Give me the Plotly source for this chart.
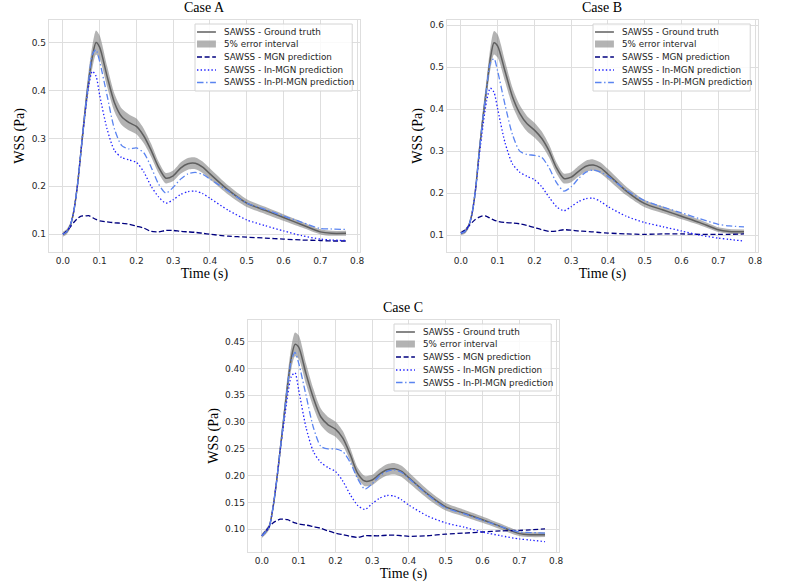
import plotly.graph_objects as go

W, H = 800, 585

t = [0, 0.01, 0.02, 0.03, 0.04, 0.05, 0.06, 0.07, 0.08, 0.09, 0.10, 0.12, 0.14, 0.16, 0.18,
     0.20, 0.22, 0.24, 0.26, 0.28, 0.30, 0.32, 0.34, 0.36, 0.38, 0.40, 0.45, 0.50, 0.55,
     0.60, 0.65, 0.70, 0.73, 0.77]

# Case A
gt_A = [0.100, 0.105, 0.118, 0.15, 0.205, 0.28, 0.355, 0.42, 0.47, 0.50, 0.49, 0.43, 0.375,
        0.345, 0.333, 0.325, 0.305, 0.275, 0.24, 0.217, 0.222, 0.238, 0.247, 0.248, 0.24,
        0.226, 0.192, 0.165, 0.15, 0.135, 0.12, 0.105, 0.102, 0.102]
pi_A = [0.100, 0.105, 0.118, 0.15, 0.205, 0.28, 0.355, 0.42, 0.475, 0.485, 0.46, 0.39, 0.32,
        0.285, 0.278, 0.28, 0.27, 0.24, 0.205, 0.186, 0.198, 0.215, 0.226, 0.229, 0.225,
        0.215, 0.19, 0.165, 0.152, 0.138, 0.125, 0.112, 0.111, 0.11]
in_A = [0.100, 0.105, 0.118, 0.15, 0.205, 0.28, 0.35, 0.41, 0.44, 0.43, 0.39, 0.32, 0.275,
        0.26, 0.255, 0.25, 0.23, 0.20, 0.178, 0.165, 0.172, 0.183, 0.189, 0.19, 0.185,
        0.175, 0.15, 0.13, 0.118, 0.107, 0.097, 0.09, 0.088, 0.087]
mgn_A = [0.100, 0.107, 0.115, 0.125, 0.133, 0.138, 0.138, 0.139, 0.135, 0.131, 0.128, 0.126,
         0.124, 0.123, 0.121, 0.117, 0.113, 0.106, 0.105, 0.108, 0.108, 0.106, 0.105, 0.104,
         0.102, 0.1, 0.096, 0.094, 0.092, 0.09, 0.088, 0.087, 0.086, 0.086]

# Case B
gt_B = [0.105, 0.108, 0.12, 0.15, 0.21, 0.30, 0.38, 0.45, 0.52, 0.558, 0.55, 0.49, 0.43, 0.39,
        0.365, 0.35, 0.33, 0.30, 0.26, 0.235, 0.238, 0.252, 0.264, 0.267, 0.26, 0.245, 0.205,
        0.175, 0.16, 0.145, 0.13, 0.113, 0.109, 0.108]
pi_B = [0.105, 0.108, 0.12, 0.15, 0.21, 0.30, 0.38, 0.45, 0.51, 0.52, 0.49, 0.41, 0.34, 0.30,
        0.292, 0.29, 0.285, 0.26, 0.225, 0.205, 0.215, 0.235, 0.25, 0.255, 0.25, 0.24, 0.207,
        0.182, 0.167, 0.153, 0.139, 0.126, 0.122, 0.12]
in_B = [0.105, 0.108, 0.12, 0.15, 0.21, 0.29, 0.36, 0.42, 0.45, 0.44, 0.40, 0.32, 0.27, 0.25,
        0.24, 0.232, 0.215, 0.19, 0.168, 0.158, 0.168, 0.18, 0.187, 0.188, 0.18, 0.168, 0.145,
        0.13, 0.12, 0.11, 0.1, 0.093, 0.09, 0.086]
mgn_B = [0.105, 0.112, 0.12, 0.13, 0.138, 0.143, 0.146, 0.145, 0.14, 0.136, 0.133, 0.13, 0.129,
         0.127, 0.123, 0.118, 0.113, 0.109, 0.11, 0.113, 0.112, 0.11, 0.109, 0.108, 0.106,
         0.105, 0.103, 0.102, 0.103, 0.103, 0.102, 0.102, 0.102, 0.103]

# Case C
gt_C = [0.088, 0.095, 0.105, 0.14, 0.19, 0.25, 0.31, 0.37, 0.42, 0.445, 0.44, 0.39, 0.345,
        0.31, 0.295, 0.287, 0.27, 0.24, 0.205, 0.19, 0.192, 0.203, 0.211, 0.213, 0.208,
        0.196, 0.166, 0.142, 0.13, 0.118, 0.105, 0.092, 0.09, 0.09]
pi_C = [0.088, 0.095, 0.105, 0.14, 0.19, 0.25, 0.31, 0.37, 0.415, 0.43, 0.41, 0.35, 0.29,
        0.255, 0.25, 0.25, 0.245, 0.225, 0.195, 0.175, 0.185, 0.2, 0.208, 0.211, 0.206,
        0.195, 0.165, 0.14, 0.129, 0.117, 0.105, 0.095, 0.094, 0.093]
in_C = [0.088, 0.095, 0.105, 0.14, 0.19, 0.25, 0.30, 0.35, 0.385, 0.392, 0.36, 0.29, 0.245,
        0.225, 0.215, 0.208, 0.19, 0.165, 0.145, 0.137, 0.148, 0.158, 0.163, 0.162, 0.155,
        0.145, 0.125, 0.112, 0.104, 0.095, 0.088, 0.082, 0.08, 0.077]
mgn_C = [0.088, 0.097, 0.105, 0.112, 0.116, 0.119, 0.119, 0.118, 0.115, 0.112, 0.11, 0.108,
         0.105, 0.102, 0.097, 0.093, 0.09, 0.087, 0.085, 0.088, 0.088, 0.088, 0.089, 0.089,
         0.088, 0.087, 0.088, 0.091, 0.093, 0.095, 0.097, 0.098, 0.099, 0.101]

titles = ["Case A", "Case B", "Case C"]
x_ticks = [0.0, 0.1, 0.2, 0.3, 0.4, 0.5, 0.6, 0.7, 0.8]
y_ticks_A = [0.1, 0.2, 0.3, 0.4, 0.5]
y_ticks_B = [0.1, 0.2, 0.3, 0.4, 0.5, 0.6]
y_ticks_C = [0.10, 0.15, 0.20, 0.25, 0.30, 0.35, 0.40, 0.45]
legend_labels = ["SAWSS - Ground truth", "5% error interval", "SAWSS - MGN prediction",
                 "SAWSS - In-MGN prediction", "SAWSS - In-PI-MGN prediction"]

C_GT = "#5f5f5f"
C_BAND = "rgba(128,128,128,0.6)"
C_MGN = "#00007f"
C_IN = "#1f1fff"
C_PI = "#5a84f0"
D_MGN = "5px,2.6px"
D_IN = "1.4px,2.2px"
D_PI = "6.5px,2.6px,1.4px,2.6px"
GRID = "#dedede"
TXT = "#262626"

panels = [
    dict(gt=gt_A, pi=pi_A, inm=in_A, mgn=mgn_A, px=(49, 362), py=(20, 252),
         yr=[0.063, 0.547], yt=y_ticks_A, fmt="{:.1f}", leg=(196, 24), title_y=8),
    dict(gt=gt_B, pi=pi_B, inm=in_B, mgn=mgn_B, px=(449, 762), py=(20, 252),
         yr=[0.060, 0.612], yt=y_ticks_B, fmt="{:.1f}", leg=(596, 24), title_y=8),
    dict(gt=gt_C, pi=pi_C, inm=in_C, mgn=mgn_C, px=(249, 562), py=(320, 552),
         yr=[0.0577, 0.4905], yt=y_ticks_C, fmt="{:.2f}", leg=(396, 324), title_y=307),
]

fig = go.Figure()
shapes = []
annotations = []


def px2x(v):
    return v / W


def px2y(v):
    return 1 - v / H


for i, p in enumerate(panels):
    sfx = "" if i == 0 else str(i + 1)
    xa, ya = "x" + sfx, "y" + sfx
    upper = [v * 1.05 for v in p["gt"]]
    lower = [v * 0.95 for v in p["gt"]]
    common = dict(xaxis=xa, yaxis=ya, showlegend=False, mode="lines")
    fig.add_trace(go.Scatter(x=t, y=upper, line=dict(width=0, shape="spline", smoothing=0.7),
                             hoverinfo="skip", **common))
    fig.add_trace(go.Scatter(x=t, y=lower, line=dict(width=0, shape="spline", smoothing=0.7),
                             fill="tonexty", fillcolor=C_BAND, name=legend_labels[1], **common))
    fig.add_trace(go.Scatter(x=t, y=p["gt"], name=legend_labels[0],
                             line=dict(color=C_GT, width=1.5, shape="spline", smoothing=0.7), **common))
    fig.add_trace(go.Scatter(x=t, y=p["mgn"], name=legend_labels[2],
                             line=dict(color=C_MGN, width=1.3, dash=D_MGN, shape="spline", smoothing=0.7), **common))
    fig.add_trace(go.Scatter(x=t, y=p["inm"], name=legend_labels[3],
                             line=dict(color=C_IN, width=1.3, dash=D_IN, shape="spline", smoothing=0.7), **common))
    fig.add_trace(go.Scatter(x=t, y=p["pi"], name=legend_labels[4],
                             line=dict(color=C_PI, width=1.3, dash=D_PI, shape="spline", smoothing=0.7), **common))

    axis_common = dict(showgrid=True, gridcolor=GRID, gridwidth=1, zeroline=False,
                       showline=True, linecolor=GRID, linewidth=1, mirror=True,
                       ticks="", tickfont=dict(family="DejaVu Sans", size=9, color=TXT),
                       title_font=dict(family="Liberation Serif", size=14, color="black"))
    fig.update_layout(**{
        "xaxis" + sfx: dict(domain=[px2x(p["px"][0]), px2x(p["px"][1])], anchor=ya,
                            range=[-0.0385, 0.8085], tickvals=x_ticks,
                            ticktext=["{:.1f}".format(v) for v in x_ticks],
                            title=dict(text="Time (s)", standoff=2), **axis_common),
        "yaxis" + sfx: dict(domain=[px2y(p["py"][1]), px2y(p["py"][0])], anchor=xa,
                            range=p["yr"], tickvals=p["yt"],
                            ticktext=[p["fmt"].format(v) for v in p["yt"]],
                            title=dict(text="WSS (Pa)", standoff=3), **axis_common),
    })

    # panel title
    annotations.append(dict(text=titles[i], x=px2x((p["px"][0] + p["px"][1]) / 2),
                            y=px2y(p["title_y"]), xref="paper", yref="paper",
                            xanchor="center", yanchor="middle", showarrow=False,
                            font=dict(family="Liberation Serif", size=14, color="black")))

    # legend (drawn manually to match matplotlib spacing)
    lx, ly = p["leg"]
    shapes.append(dict(type="rect", xref="paper", yref="paper",
                       x0=px2x(lx), x1=px2x(lx + 158), y0=px2y(ly), y1=px2y(ly + 67),
                       fillcolor="rgba(255,255,255,0.85)", line=dict(color="#d4d4d4", width=1)))
    offs = [8, 20, 33, 46, 58.5]
    styles = [("line", C_GT, 1.5, "solid"), ("band", None, None, None),
              ("line", C_MGN, 1.3, D_MGN), ("line", C_IN, 1.3, D_IN), ("line", C_PI, 1.3, D_PI)]
    for k, (kind, col, wid, dsh) in enumerate(styles):
        yy = ly + offs[k]
        if kind == "line":
            shapes.append(dict(type="line", xref="paper", yref="paper",
                               x0=px2x(lx + 2), x1=px2x(lx + 21), y0=px2y(yy), y1=px2y(yy),
                               line=dict(color=col, width=wid, dash=dsh)))
        else:
            shapes.append(dict(type="rect", xref="paper", yref="paper",
                               x0=px2x(lx + 2), x1=px2x(lx + 21), y0=px2y(yy - 3.5), y1=px2y(yy + 3.5),
                               fillcolor=C_BAND, line=dict(width=0)))
        annotations.append(dict(text=legend_labels[k], x=px2x(lx + 27), y=px2y(yy),
                                xref="paper", yref="paper", xanchor="left", yanchor="middle",
                                showarrow=False,
                                font=dict(family="DejaVu Sans", size=8.8, color=TXT)))

fig.update_layout(width=W, height=H, margin=dict(l=0, r=0, t=0, b=0),
                  paper_bgcolor="white", plot_bgcolor="white", showlegend=False,
                  shapes=shapes, annotations=annotations)

fig.write_html("out.html")
